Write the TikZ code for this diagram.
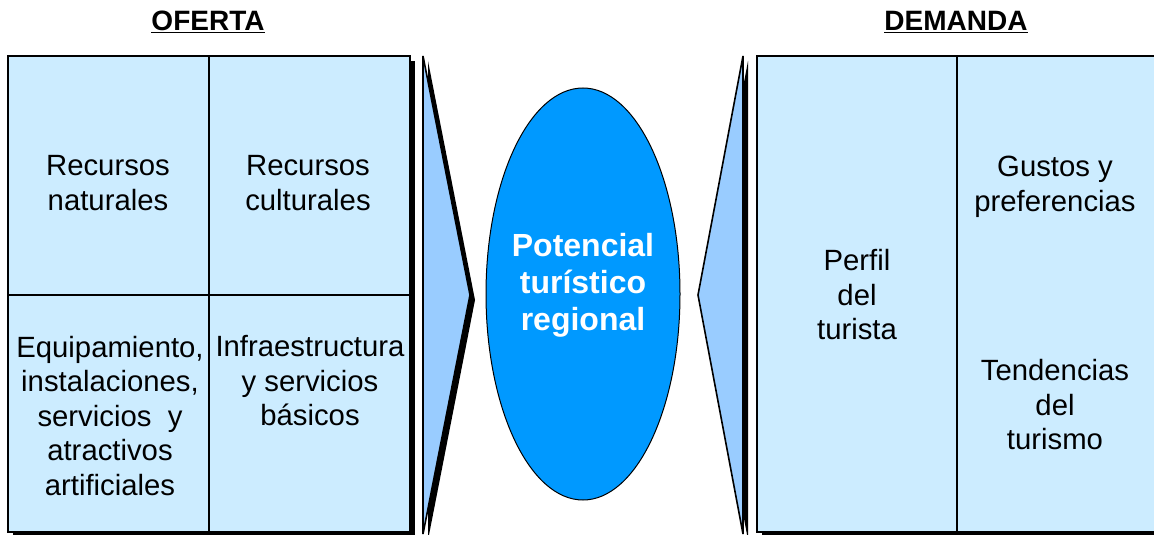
\documentclass[tikz,border=0pt]{standalone}
\usepackage{fontspec}
\setmainfont{Liberation Sans}
\usetikzlibrary{shapes.geometric}
\definecolor{boxfill}{RGB}{204,236,255}
\definecolor{arrowfill}{RGB}{153,204,255}
\definecolor{corefill}{RGB}{0,153,255}
\tikzset{
  panel/.style={draw=black, line width=1.6pt, fill=boxfill},
  shade/.style={fill=black},
  wedge/.style={draw=black, line width=1.6pt, fill=arrowfill},
  divider/.style={draw=black, line width=1.2pt},
  label/.style={align=center, inner sep=0pt, font=\fontsize{29.3}{34.5}\selectfont},
  heading/.style={inner sep=0pt, font=\bfseries\fontsize{28}{30}\selectfont},
  core/.style={align=center, inner sep=0pt, text=white, font=\bfseries\fontsize{32}{37}\selectfont}
}
\begin{document}
\begin{tikzpicture}[x=1pt,y=-1pt]
\useasboundingbox (0,0) rectangle (1154,535);
\fill[white] (0,0) rectangle (1154,535);
\begin{scope}
\clip (0,0) rectangle (1154,535);
% supply side panel with drop shadow
\fill[shade] (13,61) rectangle (415,540);
\draw[panel] (8,56) rectangle (410,532);
\draw[divider] (209,56) -- (209,532);
\draw[divider] (8,295) -- (410,295);
% right-pointing wedge
\fill[shade] (428,61) -- (475,300) -- (428,540) -- cycle;
\draw[wedge] (423,56) -- (470,295) -- (423,534) -- cycle;
% central ellipse
\node[ellipse, draw=black, line width=1pt, fill=corefill, minimum width=194pt, minimum height=412pt, inner sep=0pt] (core) at (583,294) {};
\node[core] (coretext) at (583,285) {Potencial\\turístico\\regional};
% left-pointing wedge
\fill[shade] (748,61) -- (703,300) -- (748,540) -- cycle;
\draw[wedge] (743,56) -- (698,295) -- (743,534) -- cycle;
% demand side panel with drop shadow
\fill[shade] (762,61) rectangle (1170,540);
\draw[panel] (757,56) rectangle (1170,532);
\draw[divider] (957,56) -- (957,532);
\end{scope}
% headings
\node[heading] (oferta) at (208,22) {\underline{OFERTA}};
\node[heading] (demanda) at (956,22) {\underline{DEMANDA}};
% supply side labels
\node[label] (nat) at (108,183) {Recursos\\naturales};
\node[label] (cul) at (308,183) {Recursos\\culturales};
\node[label] (equ) at (110,416) {Equipamiento,\\instalaciones,\\servicios\ \ y\\atractivos\\artificiales};
\node[label] (inf) at (310,381) {Infraestructura\\y servicios\\básicos};
% demand side labels
\node[label] (perfil) at (857,295) {Perfil\\del\\turista};
\node[label] (gustos) at (1055,187) {Gustos y\\preferencias};
\node[label] (tend) at (1055,405) {Tendencias\\del\\turismo};
\end{tikzpicture}
\end{document}
